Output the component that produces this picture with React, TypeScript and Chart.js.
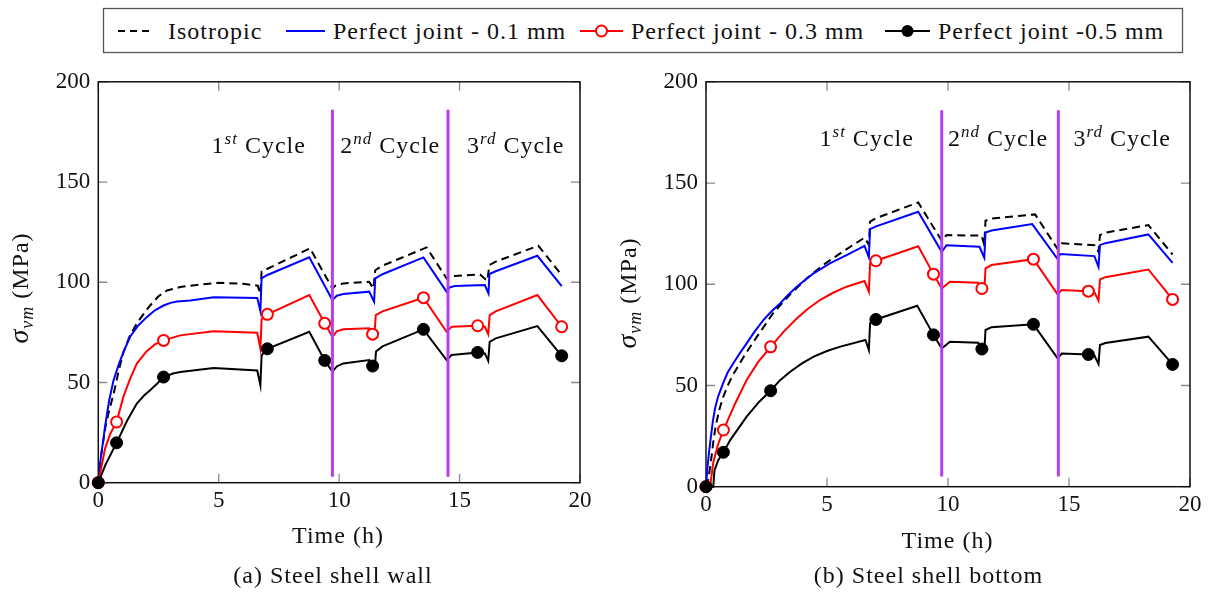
import React, { useEffect, useRef } from "react";
import { Chart, registerables } from "chart.js";

Chart.register(...registerables);

type Pt = [number, number];

// ---------- axes ----------
const xTickValues = [0, 5, 10, 15, 20];
const yTickValues = [0, 50, 100, 150, 200];

// ---------- legend ----------
const seriesNames = ["Isotropic", "Perfect joint - 0.1 mm", "Perfect joint - 0.3 mm", "Perfect joint -0.5 mm"];

// ---------- cycle annotations ----------
const cycleNumbers = ["1", "2", "3"];
const cycleSuffixes = ["st", "nd", "rd"];
const wallCycleBounds = [9.72, 14.52];
const bottomCycleBounds = [9.74, 14.56];
const wallCycleSpan = [3, 186];
const bottomCycleSpan = [5, 186];

// ---------- marker times ----------
const wallMarkTimes = [0, 0.76, 2.71, 7.02, 9.4, 11.39, 13.5, 15.75, 19.24];
const bottomMarkTimes = [0, 0.72, 2.67, 7.02, 9.4, 11.4, 13.53, 15.8, 19.28];

// ---------- (a) steel shell wall ----------
const wallIsotropic: Pt[] = [
  [0, 0], [0.12, 14], [0.3, 28], [0.45, 36], [0.63, 44], [0.85, 56], [1.04, 65], [1.3, 73], [1.6, 79.5],
  [1.9, 84.5], [2.15, 88.4], [2.5, 93], [2.85, 95.9], [3.4, 97.6], [3.82, 98.3], [5, 99.7], [6.0, 99.2],
  [6.62, 98.3], [6.73, 94.2], [6.78, 105.4], [7.0, 106.6], [8.79, 116.9], [9.72, 96.9], [9.85, 98.4],
  [10.17, 99.4], [11.25, 100.2], [11.42, 96.9], [11.5, 106], [11.75, 108], [13.63, 117.4], [14.46, 101.9],
  [14.6, 103], [15.85, 103.9], [16.15, 100.7], [16.24, 108.6], [16.5, 110.3], [18.27, 118.2], [19.24, 103.6],
];
const wallJoint01: Pt[] = [
  [0, 0], [0.1, 12], [0.28, 28], [0.45, 41], [0.63, 51], [0.85, 59], [1.04, 65], [1.32, 72.8], [1.65, 78.3],
  [2.01, 82.6], [2.35, 86], [2.71, 88.4], [3.0, 89.7], [3.26, 90.4], [3.82, 90.9], [4.79, 92.5], [6.6, 92.2],
  [6.73, 85.6], [6.78, 101.9], [7.0, 103.5], [8.76, 112.4], [9.72, 91.1], [9.9, 93.3], [10.17, 94.1],
  [11.25, 95.3], [11.45, 90.3], [11.5, 101.9], [11.8, 104], [13.5, 112.4], [14.46, 95.3], [14.6, 97.5],
  [14.8, 98.1], [16.05, 98.6], [16.2, 94.4], [16.24, 104.1], [16.5, 105.5], [18.23, 113.2], [19.24, 98.1],
];
const wallJoint03: Pt[] = [
  [0, 0], [0.28, 17], [0.5, 24.5], [0.76, 30.3], [1.04, 42.8], [1.31, 51.5], [1.6, 59.4], [2.0, 65.5],
  [2.35, 69], [2.71, 71], [3.4, 73.5], [4.79, 75.6], [6.6, 74.8], [6.73, 66.8], [6.78, 81.5], [7.02, 84],
  [8.76, 93.6], [9.4, 79.5], [9.72, 72.8], [9.9, 75.5], [10.17, 76.5], [11.25, 77], [11.39, 74.1],
  [11.46, 72.8], [11.52, 83.6], [11.8, 85.5], [13.5, 92.3], [14.46, 75.3], [14.67, 77.8], [15.75, 78.3],
  [16.05, 77.8], [16.19, 74.1], [16.25, 83.6], [16.5, 85.5], [18.23, 93.6], [19.24, 77.8],
];
const wallJoint05: Pt[] = [
  [0, 0], [0.3, 9], [0.76, 19.9], [1.2, 31], [1.6, 39.5], [1.9, 43.5], [2.15, 46.1], [2.45, 49.5],
  [2.71, 52.7], [3.1, 54.5], [3.4, 55.2], [4.79, 57.2], [6.6, 56], [6.73, 48.6], [6.78, 63.5], [7.02, 66.8],
  [8.76, 75.3], [9.4, 61], [9.72, 55.4], [9.9, 58], [10.17, 59.5], [11.25, 61.2], [11.39, 58.2],
  [11.48, 57], [11.53, 65.5], [11.8, 68], [13.5, 76.5], [14.46, 61.2], [14.67, 63.7], [15.75, 65],
  [16.05, 64.5], [16.19, 60.8], [16.25, 70.3], [16.5, 72], [18.23, 78.1], [19.24, 63.3],
];

// ---------- (b) steel shell bottom ----------
const bottomIsotropic: Pt[] = [
  [0, 0], [0.1, 4], [0.2, 12], [0.3, 22], [0.4, 30], [0.55, 38], [0.7, 44], [0.9, 50], [1.1, 55], [1.6, 65],
  [2.1, 74], [2.79, 86], [3.48, 95], [4.17, 103], [4.9, 110], [5.7, 116.5], [6.55, 123], [6.73, 119.5],
  [6.78, 130.9], [7.0, 132.5], [8.77, 140.4], [9.74, 121.5], [9.94, 124.3], [11.39, 124], [11.5, 119.5],
  [11.55, 131.4], [11.8, 132.5], [13.6, 134.5], [14.53, 117.4], [14.7, 120.2], [16.05, 119.3], [16.22, 116],
  [16.28, 124.3], [16.5, 125.5], [18.28, 129.2], [19.28, 114.7],
];
const bottomJoint01: Pt[] = [
  [0, 0], [0.05, 8], [0.12, 16.5], [0.19, 23.5], [0.28, 32], [0.37, 38.5], [0.5, 44.5], [0.72, 51.5],
  [0.9, 56.5], [1.13, 61], [1.4, 66], [1.68, 70.8], [2.0, 76.5], [2.37, 82.3], [2.7, 86.5], [3.06, 90.5],
  [3.4, 94.8], [3.75, 98.8], [4.43, 105.3], [5.12, 110.3], [5.81, 114.4], [6.55, 119], [6.73, 113.3],
  [6.78, 127.2], [7.0, 128.5], [8.77, 135.8], [9.74, 116], [9.94, 119.3], [11.3, 118.5], [11.5, 113.1],
  [11.55, 125.6], [11.8, 126.5], [13.48, 129.7], [14.53, 112.4], [14.63, 114.9], [16.05, 113.9],
  [16.22, 108.6], [16.28, 119.3], [16.5, 120.3], [18.28, 124.6], [19.28, 110.6],
];
const bottomJoint03: Pt[] = [
  [0, 0], [0.17, 0], [0.3, 12], [0.5, 21], [0.72, 28], [1.2, 41], [1.68, 52.7], [2.15, 61.5], [2.67, 69.1],
  [3.2, 76.5], [3.75, 83.1], [4.2, 87.8], [4.71, 92.2], [5.25, 95.8], [5.81, 98.8], [6.55, 101.6],
  [6.73, 96.3], [6.78, 110.3], [7.02, 111.6], [8.77, 118.8], [9.4, 105], [9.74, 97.9], [10.08, 101.2],
  [11.25, 100.8], [11.4, 97.9], [11.5, 96.5], [11.55, 107.8], [11.8, 109.5], [13.53, 112.4], [14.53, 95],
  [14.7, 97.1], [15.8, 96.6], [16.05, 96], [16.22, 91.9], [16.28, 102.4], [16.5, 103.5], [18.28, 107.3],
  [19.28, 92.5],
];
const bottomJoint05: Pt[] = [
  [0, 0], [0.3, 0], [0.35, 8], [0.5, 13], [0.72, 17], [1.0, 23], [1.68, 34.6], [2.2, 42], [2.67, 47.4],
  [3.05, 52.5], [3.48, 56.8], [3.95, 60.8], [4.45, 64.3], [5.0, 67], [5.55, 69.2], [6.59, 72.5],
  [6.73, 67.5], [6.78, 80.7], [7.02, 82.6], [8.73, 89.4], [9.4, 75], [9.74, 68.3], [10.08, 71.6],
  [11.25, 71.1], [11.4, 68], [11.5, 66.5], [11.55, 77.4], [11.8, 78.8], [13.53, 80.2], [14.53, 63.4],
  [14.7, 65.8], [15.8, 65.3], [16.05, 64.8], [16.22, 60.6], [16.28, 70], [16.5, 71], [18.28, 74.1],
  [19.28, 60.4],
];

// ---------- styling ----------
const FONT = '"Liberation Serif"';
const PURPLE = "#b43ff0";

type Part = { t: string; f: string; dy: number };

function drawRich(ctx: CanvasRenderingContext2D, parts: Part[], x: number, y: number) {
  let total = 0;
  for (const p of parts) {
    ctx.font = p.f;
    total += ctx.measureText(p.t).width;
  }
  let cx = x - total / 2;
  for (const p of parts) {
    ctx.font = p.f;
    ctx.fillText(p.t, cx, y + p.dy);
    cx += ctx.measureText(p.t).width;
  }
}

const decorPlugin = {
  id: "decor",
  beforeDatasetsDraw(chart: any) {
    const { ctx, chartArea: a, scales } = chart;
    const xs = scales.x;
    const ys = scales.y;
    ctx.save();
    ctx.strokeStyle = "#8c8c8c";
    ctx.lineWidth = 1.3;
    ctx.beginPath();
    for (const v of xTickValues) {
      const p = xs.getPixelForValue(v);
      ctx.moveTo(p, a.bottom);
      ctx.lineTo(p, a.bottom - 9);
      ctx.moveTo(p, a.top);
      ctx.lineTo(p, a.top + 9);
    }
    for (const v of yTickValues) {
      const p = ys.getPixelForValue(v);
      ctx.moveTo(a.left, p);
      ctx.lineTo(a.left + 9, p);
      ctx.moveTo(a.right, p);
      ctx.lineTo(a.right - 9, p);
    }
    ctx.stroke();
    ctx.strokeStyle = "#111";
    ctx.lineWidth = 1.5;
    ctx.strokeRect(a.left, a.top, a.right - a.left, a.bottom - a.top);
    ctx.restore();
  },
  afterDraw(chart: any, _args: any, o: any) {
    const { ctx, scales } = chart;
    const xs = scales.x;
    const ys = scales.y;
    ctx.save();
    ctx.fillStyle = "#111";
    ctx.textAlign = "left";
    ctx.textBaseline = "alphabetic";
    (ctx as any).letterSpacing = "1px";
    const by = ys.getPixelForValue(o.labelY);
    o.labelX.forEach((lx: number, i: number) => {
      drawRich(
        ctx,
        [
          { t: cycleNumbers[i], f: `24px ${FONT}`, dy: 0 },
          { t: cycleSuffixes[i], f: `italic 17px ${FONT}`, dy: -9 },
          { t: " Cycle", f: `24px ${FONT}`, dy: 0 },
        ],
        xs.getPixelForValue(lx),
        by
      );
    });
    drawRich(ctx, [{ t: "Time (h)", f: `24px ${FONT}`, dy: 0 }], o.xTitle[0], o.xTitle[1]);
    drawRich(ctx, [{ t: o.caption, f: `24px ${FONT}`, dy: 0 }], o.captionPos[0], o.captionPos[1]);
    ctx.translate(o.yTitle[0], o.yTitle[1]);
    ctx.rotate(-Math.PI / 2);
    drawRich(
      ctx,
      [
        { t: "σ", f: `italic 28px ${FONT}`, dy: 0 },
        { t: "vm", f: `italic 18px ${FONT}`, dy: 5 },
        { t: " (MPa)", f: `24px ${FONT}`, dy: 0 },
      ],
      0,
      0
    );
    ctx.restore();
  },
};

const toXY = (a: Pt[]) => a.map(([x, y]) => ({ x, y }));

type PanelProps = {
  left: number;
  width: number;
  height: number;
  series: Pt[][];
  marks: number[];
  bounds: number[];
  span: number[];
  padRight: number;
  yAxisWidth: number;
  xAxisHeight: number;
  decor: any;
};

function Panel(p: PanelProps) {
  const ref = useRef<HTMLCanvasElement | null>(null);
  useEffect(() => {
    if (!ref.current) return;
    const isMark = (c: any) => {
      const r = c.raw;
      return r && p.marks.some((m) => Math.abs(m - r.x) < 1e-6);
    };
    const [iso, j1, j3, j5] = p.series;
    const datasets: any[] = [
      {
        label: seriesNames[0], data: toXY(iso), borderColor: "#000", borderWidth: 2, borderDash: [8, 5],
        pointRadius: 0, tension: 0, order: 4,
      },
      {
        label: seriesNames[1], data: toXY(j1), borderColor: "#0000ff", borderWidth: 2, pointRadius: 0,
        tension: 0, order: 3,
      },
      {
        label: seriesNames[2], data: toXY(j3), borderColor: "#ff0000", borderWidth: 2, tension: 0, order: 2,
        pointRadius: (c: any) => (isMark(c) ? 5.5 : 0), pointBackgroundColor: "#ffffff",
        pointBorderColor: "#ff0000", pointBorderWidth: 2, clip: false,
      },
      {
        label: seriesNames[3], data: toXY(j5), borderColor: "#000", borderWidth: 2, tension: 0, order: 1,
        pointRadius: (c: any) => (isMark(c) ? 6 : 0), pointBackgroundColor: "#000", pointBorderColor: "#000",
        pointBorderWidth: 1, clip: false,
      },
      ...p.bounds.map((b) => ({
        label: "cycle", data: [{ x: b, y: p.span[0] }, { x: b, y: p.span[1] }], borderColor: PURPLE,
        borderWidth: 3, pointRadius: 0, order: 0,
      })),
    ];
    const tickFont = { family: FONT, size: 23 };
    const chart = new Chart(ref.current, {
      type: "line",
      data: { datasets },
      options: {
        responsive: false,
        animation: false,
        devicePixelRatio: 1,
        events: [],
        layout: { padding: { left: 0, top: 21.7, right: p.padRight, bottom: 0 } },
        scales: {
          x: {
            type: "linear", min: 0, max: 20,
            ticks: { stepSize: 5, color: "#111", font: tickFont, padding: 4, maxRotation: 0, autoSkip: false },
            grid: { display: false, drawTicks: false },
            border: { display: false },
            afterFit: (s: any) => { s.height = p.xAxisHeight; },
          },
          y: {
            type: "linear", min: 0, max: 200,
            ticks: { stepSize: 50, color: "#111", font: tickFont, padding: 8, autoSkip: false },
            grid: { display: false, drawTicks: false },
            border: { display: false },
            afterFit: (s: any) => { s.width = p.yAxisWidth; },
          },
        },
        plugins: { legend: { display: false }, tooltip: { enabled: false }, decor: p.decor } as any,
      },
      plugins: [decorPlugin],
    } as any);
    return () => chart.destroy();
  }, []);
  return (
    <canvas
      ref={ref}
      width={p.width}
      height={p.height}
      style={{ position: "absolute", left: p.left, top: 60, width: p.width, height: p.height }}
    />
  );
}

function Legend() {
  const cy = 31;
  const textX = [168, 333, 631, 938];
  return (
    <svg width={1209} height={60} style={{ position: "absolute", left: 0, top: 0 }}>
      <rect x={103.5} y={8.5} width={1079} height={44} fill="#fff" stroke="#555" strokeWidth={1.3} />
      <line x1={118} y1={cy} x2={151} y2={cy} stroke="#000" strokeWidth={2.2} strokeDasharray="7 5" />
      <line x1={286} y1={cy} x2={325} y2={cy} stroke="#0000ff" strokeWidth={2.2} />
      <line x1={580} y1={cy} x2={623} y2={cy} stroke="#ff0000" strokeWidth={2.2} />
      <circle cx={601.5} cy={cy} r={5.5} fill="#fff" stroke="#ff0000" strokeWidth={2} />
      <line x1={885} y1={cy} x2={930} y2={cy} stroke="#000" strokeWidth={2.2} />
      <circle cx={907.5} cy={cy} r={6} fill="#000" />
      {seriesNames.map((n, i) => (
        <text
          key={n}
          x={textX[i]}
          y={39}
          style={{ fontFamily: "'Liberation Serif'", fontSize: 24, letterSpacing: 1 }}
          fill="#111"
        >
          {n}
        </text>
      ))}
    </svg>
  );
}

export default function App() {
  return (
    <div style={{ position: "absolute", left: 0, top: 0, width: 1209, height: 594, background: "#fff", overflow: "hidden" }}>
      <Legend />
      <Panel
        left={0}
        width={605}
        height={534}
        series={[wallIsotropic, wallJoint01, wallJoint03, wallJoint05]}
        marks={wallMarkTimes}
        bounds={wallCycleBounds}
        span={wallCycleSpan}
        padRight={25}
        yAxisWidth={98.3}
        xAxisHeight={111.3}
        decor={{
          labelX: [6.66, 12.12, 17.33],
          labelY: 164.4,
          xTitle: [338, 483],
          caption: "(a) Steel shell wall",
          captionPos: [333, 523],
          yTitle: [28, 228],
        }}
      />
      <Panel
        left={605}
        width={604}
        height={534}
        series={[bottomIsotropic, bottomJoint01, bottomJoint03, bottomJoint05]}
        marks={bottomMarkTimes}
        bounds={bottomCycleBounds}
        span={bottomCycleSpan}
        padRight={19}
        yAxisWidth={101}
        xAxisHeight={107.3}
        decor={{
          labelX: [6.64, 12.07, 17.2],
          labelY: 168.2,
          xTitle: [342.5, 487.7],
          caption: "(b) Steel shell bottom",
          captionPos: [323.5, 523],
          yTitle: [31, 233],
        }}
      />
    </div>
  );
}
